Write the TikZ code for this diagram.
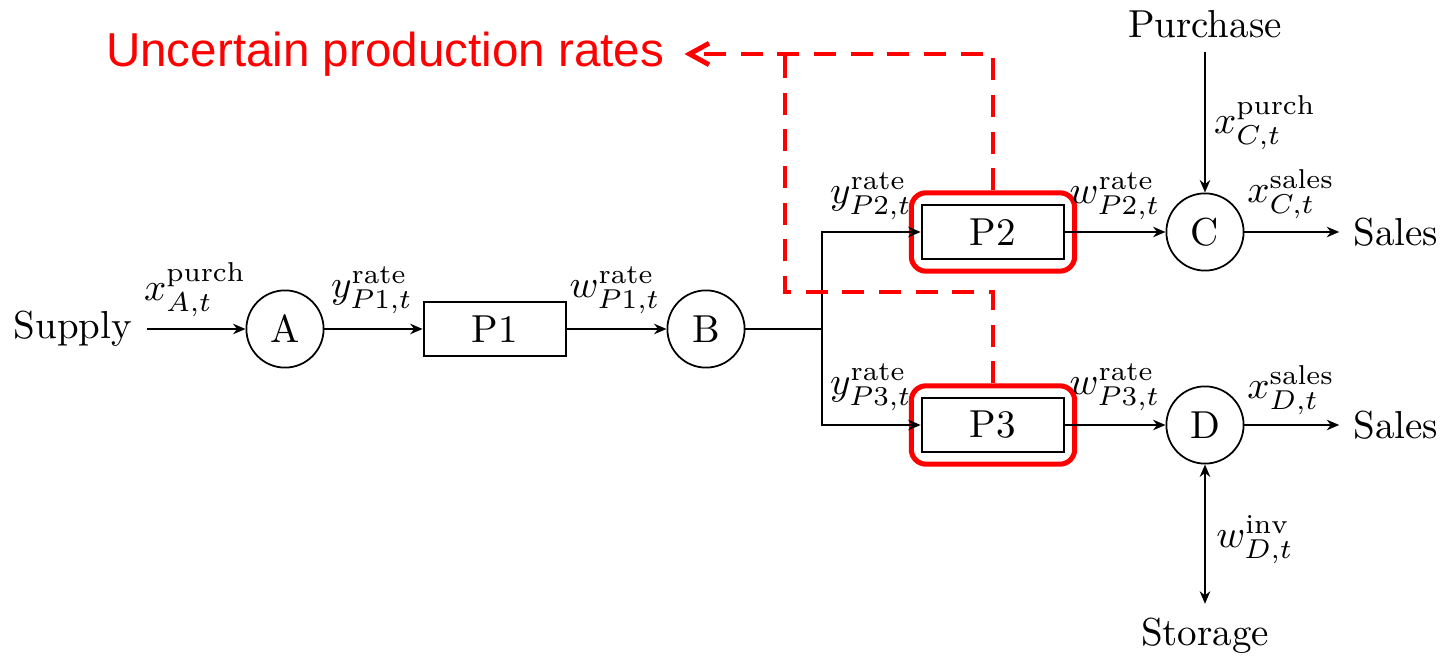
\documentclass[tikz,border=0pt]{standalone}
\usepackage{fontspec}
\newfontfamily\redfont{Liberation Sans}
\usetikzlibrary{arrows.meta,fit}
\tikzset{
  proc/.style={draw, line width=0.5pt, minimum width=36.6pt, minimum height=14pt, inner sep=0pt},
  hub/.style={draw, circle, line width=0.45pt, minimum size=19.8pt, inner sep=0pt},
  flow/.style={line width=0.45pt, -{Stealth[length=3.2pt,width=2.7pt]}},
  twoway/.style={line width=0.45pt, {Stealth[length=3.2pt,width=2.7pt]}-{Stealth[length=3.2pt,width=2.7pt]}},
  plain/.style={line width=0.45pt},
  lbl/.style={inner sep=0pt},
  txt/.style={inner sep=3.5pt},
  redbox/.style={draw=red, line width=1.3pt, rounded corners=3.8pt, inner xsep=2.4pt, inner ysep=2.8pt},
  reddash/.style={draw=red, line width=1.25pt, dash pattern=on 5.6pt off 3.8pt},
}
\begin{document}
\begin{tikzpicture}[x=0.2564pt, y=-0.2564pt]
\useasboundingbox (0,0) rectangle (1447,659);
% main row
\node[txt] (supply) at (73,329) {Supply};
\node[hub] (A) at (285,329) {A};
\node[proc] (P1) at (495,329) {P1};
\node[hub] (B) at (706,329) {B};
\coordinate (j) at (822,329);
\node[proc] (P2) at (993,232) {P2};
\node[proc] (P3) at (993,425) {P3};
\node[hub] (C) at (1205,232) {C};
\node[hub] (D) at (1205,425) {D};
\node[txt] (sales1) at (1396,232) {Sales};
\node[txt] (sales2) at (1396,425) {Sales};
\node[txt] (purch) at (1205,24) {Purchase};
\node[txt] (stor) at (1205,636) {Storage};
% red highlight
\node[redbox, fit=(P2)] (R2) {};
\node[redbox, fit=(P3)] (R3) {};
\node[anchor=east, inner sep=0pt, text=red, font=\redfont\fontsize{12.2}{14}\selectfont] (title) at (665,54) {Uncertain production rates};
\coordinate (k1) at (993,54);
\coordinate (k2) at (785,54);
\coordinate (k3) at (785,292);
% connectors
\draw[flow] (supply) -- (A);
\draw[flow] (A) -- (P1);
\draw[flow] (P1) -- (B);
\draw[plain] (B) -- (j);
\draw[flow] (j) |- (P2);
\draw[flow] (j) |- (P3);
\draw[flow] (P2) -- (C);
\draw[flow] (P3) -- (D);
\draw[flow] (C) -- (sales1);
\draw[flow] (D) -- (sales2);
\draw[flow] (purch) -- (C);
\draw[twoway] (D) -- (stor);
% red dashed
\draw[reddash, -{Straight Barb[length=5pt,width=5.5pt]}, shorten >=5pt] (R2.north) -- (k1) -- (title.east);
\draw[reddash] (R3.north) |- (k3) -- (k2);
% labels
\node[lbl] at (195,290) {$x^{\mathrm{purch}}_{A,t}$};
\node[lbl] at (372,290) {$y^{\mathrm{rate}}_{P1,t}$};
\node[lbl] at (615,290) {$w^{\mathrm{rate}}_{P1,t}$};
\node[lbl] at (871,196) {$y^{\mathrm{rate}}_{P2,t}$};
\node[lbl] at (871,387) {$y^{\mathrm{rate}}_{P3,t}$};
\node[lbl] at (1115,196) {$w^{\mathrm{rate}}_{P2,t}$};
\node[lbl] at (1115,387) {$w^{\mathrm{rate}}_{P3,t}$};
\node[lbl] at (1291,194) {$x^{\mathrm{sales}}_{C,t}$};
\node[lbl] at (1291,390) {$x^{\mathrm{sales}}_{D,t}$};
\node[lbl] at (1265,123) {$x^{\mathrm{purch}}_{C,t}$};
\node[lbl] at (1255,540) {$w^{\mathrm{inv}}_{D,t}$};
\end{tikzpicture}
\end{document}
